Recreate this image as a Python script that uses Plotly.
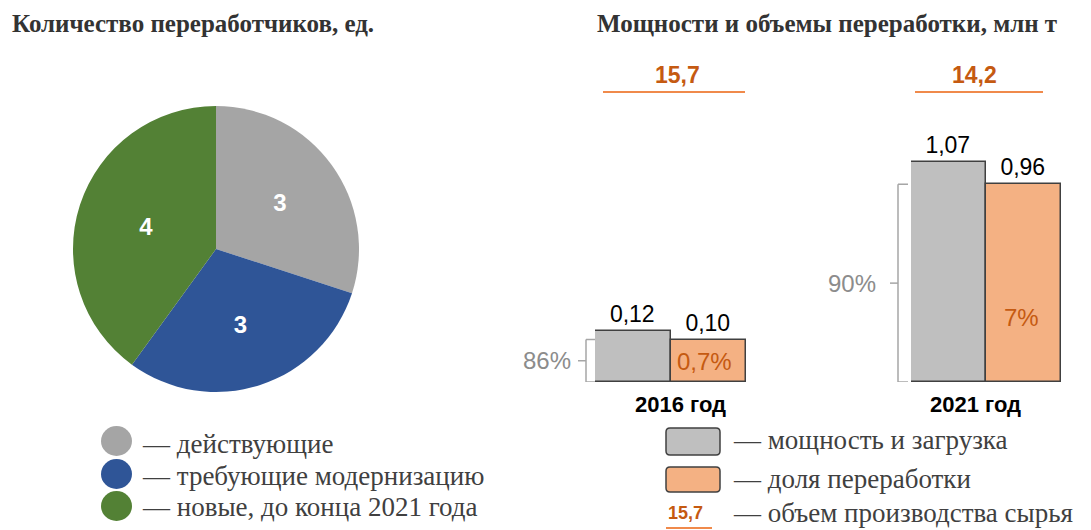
import plotly.graph_objects as go

W, H = 1091, 530


def px(x):
    return x / W


def py(y):
    return 1 - y / H


# ---------------- data ----------------
pie_labels = ["действующие", "требующие модернизацию", "новые, до конца 2021 года"]
pie_values = [3, 3, 4]
pie_colors = ["#A5A5A5", "#2F5597", "#538135"]

years = ["2016 год", "2021 год"]
capacity = [0.12, 1.07]
processing = [0.10, 0.96]
processing_share = [0.7, 7]
utilization = [86, 90]
raw_volume = [15.7, 14.2]
bar_legend_labels = ["мощность и загрузка", "доля переработки", "объем производства сырья"]

GREY = "#BFBFBF"
ORANGE = "#F4B183"
DARK_OR = "#C55A11"
LINE_OR = "#F08A4B"
EDGE = "#404040"
SERIF = "Liberation Serif"
SANS = "Liberation Sans"


def fmt(v, d):
    return f"{v:.{d}f}".replace(".", ",")


fig = go.Figure()

# ---------------- pie ----------------
fig.add_trace(go.Pie(
    values=pie_values, labels=pie_labels, sort=False, direction="clockwise", rotation=0,
    marker=dict(colors=pie_colors, line=dict(width=0)),
    textinfo="value", textposition="inside", insidetextorientation="horizontal",
    textfont=dict(family=SANS, size=24, color="white", weight="bold"),
    domain=dict(x=[px(73), px(359)], y=[py(392), py(106)]),
    showlegend=False, hoverinfo="label+value",
))

# ---------------- bars ----------------
domains_x = [[px(595), px(746)], [px(911), px(1061)]]
yranges = [322 / 425, 322 / 206]
for i in range(2):
    xa = "x" if i == 0 else "x2"
    ya = "y" if i == 0 else "y2"
    fig.add_trace(go.Bar(
        x=[0, 1], y=[capacity[i], processing[i]], width=[1, 1],
        marker=dict(color=[GREY, ORANGE], line=dict(color=EDGE, width=1.5)),
        texttemplate="%{y:.2f}", textposition="outside", cliponaxis=False,
        textfont=dict(family=SANS, size=23, color="black"),
        constraintext="none",
        xaxis=xa, yaxis=ya, showlegend=False,
    ))

axis_common = dict(visible=False, fixedrange=True)
fig.update_layout(
    xaxis=dict(domain=domains_x[0], range=[-0.5, 1.5], anchor="y", **axis_common),
    yaxis=dict(domain=[py(382), py(60)], range=[0, yranges[0]], anchor="x", **axis_common),
    xaxis2=dict(domain=domains_x[1], range=[-0.5, 1.5], anchor="y2", **axis_common),
    yaxis2=dict(domain=[py(382), py(60)], range=[0, yranges[1]], anchor="x2", **axis_common),
)

ann = []
shapes = []

# titles
ann.append(dict(text="<b>Количество переработчиков, ед.</b>", x=px(10), y=py(24), xref="paper", yref="paper",
                xanchor="left", yanchor="middle", showarrow=False,
                font=dict(family=SERIF, size=25, color="#333333")))
ann.append(dict(text="<b>Мощности и объемы переработки, млн т</b>", x=px(595), y=py(24), xref="paper", yref="paper",
                xanchor="left", yanchor="middle", showarrow=False,
                font=dict(family=SERIF, size=25, color="#333333")))

# per-year decorations
year_label_x = [680, 975]
top_center_x = [677, 974]
top_line = [[603, 745], [915, 1043]]
share_pos = [(704, 361), (1021, 317)]
bracket_x = [586, 898]
bracket_tick = [9, 10]
label_right = [573, 878]
for i in range(2):
    ya = "y" if i == 0 else "y2"
    # year label
    ann.append(dict(text=f"<b>{years[i]}</b>", x=px(year_label_x[i]), y=py(404), xref="paper", yref="paper",
                    showarrow=False, xanchor="center", yanchor="middle",
                    font=dict(family=SANS, size=22, color="black")))
    # share in orange bar
    ann.append(dict(text=fmt(processing_share[i], 1 if processing_share[i] < 1 else 0) + "%",
                    x=px(share_pos[i][0]), y=py(share_pos[i][1]), xref="paper", yref="paper",
                    showarrow=False, xanchor="center", yanchor="middle",
                    font=dict(family=SANS, size=24, color=DARK_OR)))
    # raw volume
    ann.append(dict(text=f"<b>{fmt(raw_volume[i], 1)}</b>", x=px(top_center_x[i]), y=py(75), xref="paper", yref="paper",
                    showarrow=False, xanchor="center", yanchor="middle",
                    font=dict(family=SANS, size=23, color=DARK_OR)))
    shapes.append(dict(type="line", xref="paper", yref="paper", x0=px(top_line[i][0]), x1=px(top_line[i][1]),
                       y0=py(92), y1=py(92), line=dict(color=LINE_OR, width=2)))
    # bracket
    bx = bracket_x[i]
    tk = bracket_tick[i]
    top = processing[i]
    bc = "#A6A6A6"
    shapes.append(dict(type="line", xref="paper", yref=ya, x0=px(bx), x1=px(bx), y0=0, y1=top,
                       line=dict(color=bc, width=1.5)))
    shapes.append(dict(type="line", xref="paper", yref=ya, x0=px(bx), x1=px(bx + tk), y0=top, y1=top,
                       line=dict(color=bc, width=1.5)))
    shapes.append(dict(type="line", xref="paper", yref=ya, x0=px(bx), x1=px(bx + tk), y0=0, y1=0,
                       line=dict(color=bc, width=1.5)))
    shapes.append(dict(type="line", xref="paper", yref=ya, x0=px(bx - 8), x1=px(bx), y0=top / 2, y1=top / 2,
                       line=dict(color=bc, width=1.5)))
    ann.append(dict(text=f"{utilization[i]}%", x=px(label_right[i]), y=top / 2, xref="paper", yref=ya,
                    showarrow=False, xanchor="right", yanchor="middle",
                    font=dict(family=SANS, size=24, color="#8C8C8C")))

# left legend
circ_y = [441, 474, 506]
text_y = [444, 476, 507]
for i, lab in enumerate(pie_labels):
    cy = circ_y[i]
    shapes.append(dict(type="circle", xref="paper", yref="paper", x0=px(101), x1=px(132),
                       y0=py(cy + 15), y1=py(cy - 15), fillcolor=pie_colors[i], line=dict(width=0)))
    ann.append(dict(text="— " + lab, x=px(140), y=py(text_y[i]), xref="paper", yref="paper", showarrow=False,
                    xanchor="left", yanchor="middle", font=dict(family=SERIF, size=27, color="#404040")))


# right legend
def rounded_rect(x0, y0, x1, y1, r):
    X = lambda v: px(v)
    Y = lambda v: py(v)
    return (f"M {X(x0 + r)},{Y(y0)} L {X(x1 - r)},{Y(y0)} Q {X(x1)},{Y(y0)} {X(x1)},{Y(y0 + r)} "
            f"L {X(x1)},{Y(y1 - r)} Q {X(x1)},{Y(y1)} {X(x1 - r)},{Y(y1)} "
            f"L {X(x0 + r)},{Y(y1)} Q {X(x0)},{Y(y1)} {X(x0)},{Y(y1 - r)} "
            f"L {X(x0)},{Y(y0 + r)} Q {X(x0)},{Y(y0)} {X(x0 + r)},{Y(y0)} Z")


rect_y = [(428, 455), (467, 492)]
for i, col in enumerate([GREY, ORANGE]):
    y0, y1 = rect_y[i]
    shapes.append(dict(type="path", xref="paper", yref="paper", path=rounded_rect(666, y0, 720, y1, 4),
                       fillcolor=col, line=dict(color=EDGE, width=1.5)))
ann.append(dict(text=f"<b>{fmt(raw_volume[0], 1)}</b>", x=px(685), y=py(513), xref="paper", yref="paper",
                showarrow=False, xanchor="center", yanchor="middle",
                font=dict(family=SANS, size=18, color=DARK_OR)))
shapes.append(dict(type="line", xref="paper", yref="paper", x0=px(666), x1=px(712), y0=py(528), y1=py(528),
                   line=dict(color=LINE_OR, width=2)))
rl_y = [440, 479, 513]
for i, lab in enumerate(bar_legend_labels):
    ann.append(dict(text="— " + lab, x=px(731), y=py(rl_y[i]), xref="paper", yref="paper", showarrow=False,
                    xanchor="left", yanchor="middle", font=dict(family=SERIF, size=27, color="#404040")))

fig.update_layout(
    width=W, height=H, margin=dict(l=0, r=0, t=0, b=0),
    paper_bgcolor="white", plot_bgcolor="white",
    separators=", ", bargap=0,
    annotations=ann, shapes=shapes, showlegend=False,
)

fig.write_html("out.html")
